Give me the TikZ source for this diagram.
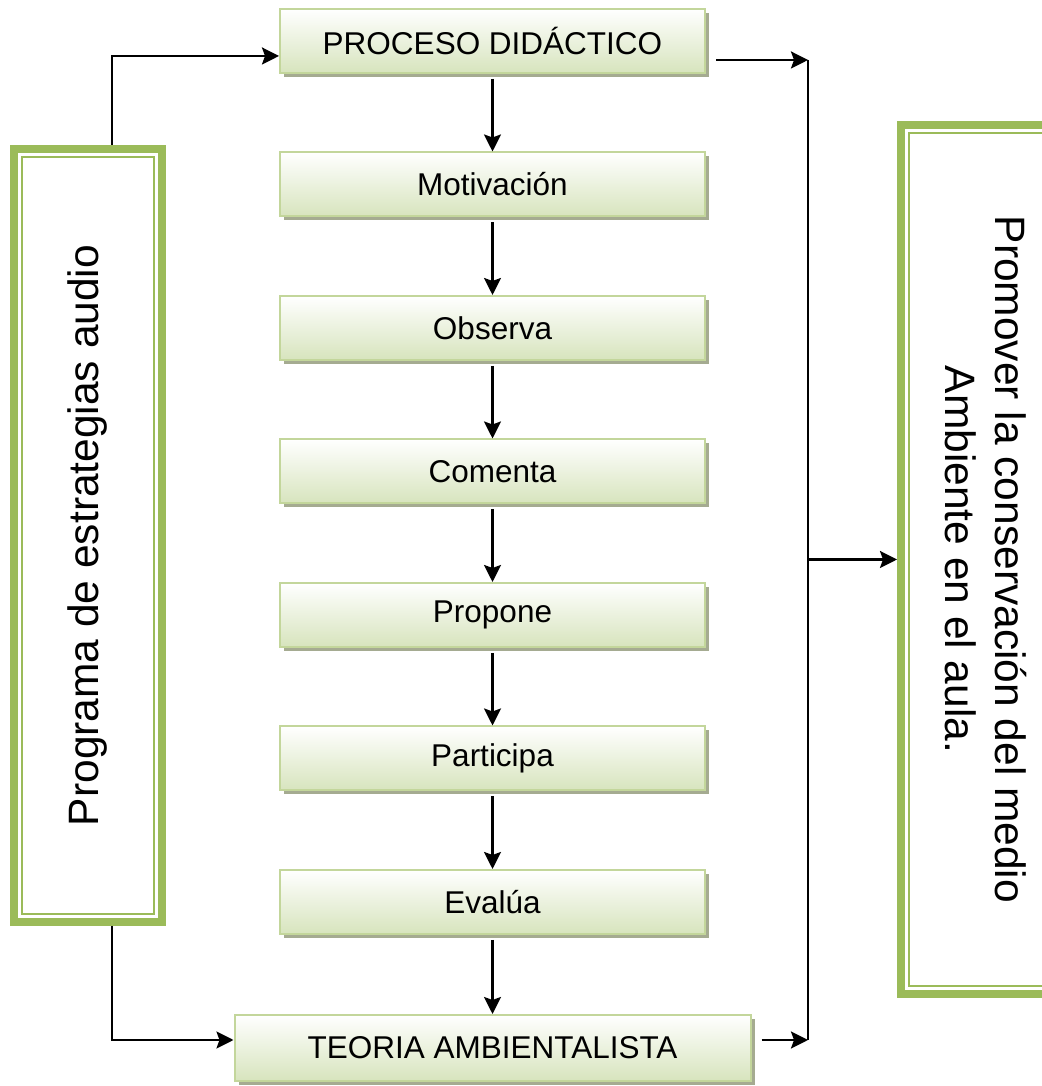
\documentclass[tikz,border=0pt]{standalone}
\usepackage{fontspec}
\setmainfont{Liberation Sans}
\usetikzlibrary{positioning,shadows,arrows.meta}

\definecolor{verdeborde}{HTML}{C3D69B}
\definecolor{verdefondo}{HTML}{D7E4BD}
\definecolor{verdemarco}{HTML}{9BBB59}
\definecolor{sombra}{HTML}{A5AB91}

\tikzset{
  paso/.style={draw=verdeborde, line width=2pt, top color=white, bottom color=verdefondo,
    minimum width=425pt, minimum height=64pt, inner sep=0pt,
    font=\fontsize{31.5}{38}\selectfont,
    drop shadow={shadow xshift=4pt, shadow yshift=-4pt, fill=sombra, opacity=1}},
  marco/.style={draw=verdemarco, line width=8pt, inner sep=0pt, font=\fontsize{42.5}{50}\selectfont},
  flecha/.style={line width=2.5pt, -{Stealth[length=17pt,width=17pt,inset=3pt]}},
}

\begin{document}
\begin{tikzpicture}[x=1pt, y=1pt, node distance=77.5pt]
    \useasboundingbox (0,0) rectangle (1041,1086);

    \node[paso] (proc) at (492.5,1045) {PROCESO DIDÁCTICO};
    \node[paso, below=of proc] (motiv) {Motivación};
    \node[paso, below=of motiv] (observa) {Observa};
    \node[paso, below=of observa] (comenta) {Comenta};
    \node[paso, below=of comenta] (propone) {Propone};
    \node[paso, below=of propone] (particip) {Participa};
    \node[paso, below=of particip] (evalua) {Evalúa};
    \node[paso, below=79pt of evalua, minimum width=516pt, minimum height=66pt] (teoria) {TEORIA AMBIENTALISTA};

    \node[marco, minimum width=148pt, minimum height=773pt] (prog) at (88,550.5)
      {\rotatebox{90}{Programa de estrategias audio}};
    \node[marco, minimum width=158pt, minimum height=869pt] (prom) at (980,526.5)
      {\rotatebox{-90}{\begin{tabular}{@{}c@{}}Promover la conservación del medio\\ Ambiente en el aula.\end{tabular}}};

    % inner lines of the frames
    \draw[verdemarco, line width=2pt] ([shift={(12pt,-12pt)}]prog.north west) rectangle ([shift={(-12pt,12pt)}]prog.south east);
    \draw[verdemarco, line width=2pt] ([shift={(12pt,-12pt)}]prom.north west) rectangle ([shift={(-12pt,12pt)}]prom.south east);

    \draw[flecha, shorten <=5pt] (proc) -- (motiv);
    \draw[flecha, shorten <=5pt] (motiv) -- (observa);
    \draw[flecha, shorten <=5pt] (observa) -- (comenta);
    \draw[flecha, shorten <=5pt] (comenta) -- (propone);
    \draw[flecha, shorten <=5pt] (propone) -- (particip);
    \draw[flecha, shorten <=5pt] (particip) -- (evalua);
    \draw[flecha, shorten <=5pt] (evalua) -- (evalua |- teoria.north);

    \coordinate (arriba) at (808,1026);
    \coordinate (abajo) at (808,46);

    \draw[flecha] ([xshift=24pt]prog.north) |- ([yshift=-15pt]proc.west);
    \draw[flecha] ([xshift=24pt]prog.south) |- (teoria.west |- abajo);

    \draw[flecha] ([xshift=10pt,yshift=-19pt]proc.east) -- (arriba);
    \draw[flecha] ([xshift=10pt]teoria.east |- abajo) -- (abajo);
    \draw[line width=2.5pt] (arriba) -- (abajo);
    \draw[flecha] (arriba |- prom.west) -- (prom.west);
\end{tikzpicture}
\end{document}
